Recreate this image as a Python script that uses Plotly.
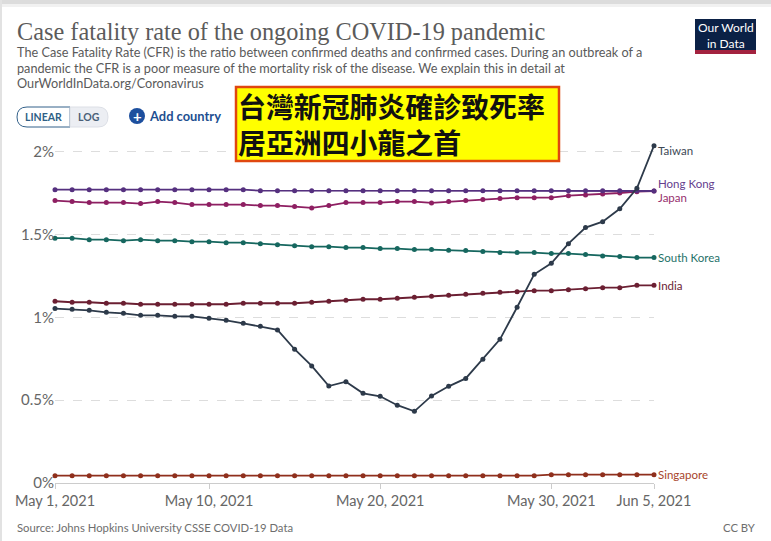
import pandas as pd
import plotly.graph_objects as go

W, H = 771, 541
ML, MR, MT, MB = 55, 117, 144, 58

dates = pd.date_range("2021-05-01", "2021-06-05").strftime("%Y-%m-%d").tolist()

taiwan = [1.054, 1.05, 1.043, 1.031, 1.025, 1.013, 1.013, 1.007, 1.007, 0.995, 0.983, 0.965,
          0.947, 0.925, 0.808, 0.707, 0.586, 0.612, 0.542, 0.524, 0.47, 0.433, 0.526, 0.584,
          0.632, 0.747, 0.868, 1.062, 1.261, 1.327, 1.446, 1.543, 1.579, 1.657, 1.78, 2.038]
hong_kong = [1.772, 1.772, 1.772, 1.772, 1.772, 1.772, 1.772, 1.772, 1.772, 1.772, 1.772, 1.772,
             1.766, 1.766, 1.766, 1.766, 1.766, 1.766, 1.766, 1.766, 1.766, 1.766, 1.766, 1.766,
             1.766, 1.766, 1.766, 1.766, 1.766, 1.766, 1.766, 1.766, 1.766, 1.766, 1.766, 1.764]
japan = [1.706, 1.7, 1.694, 1.694, 1.694, 1.688, 1.7, 1.694, 1.682, 1.682, 1.682, 1.682,
         1.676, 1.676, 1.67, 1.662, 1.676, 1.694, 1.694, 1.694, 1.7, 1.7, 1.692, 1.7,
         1.706, 1.712, 1.718, 1.724, 1.724, 1.724, 1.736, 1.74, 1.746, 1.752, 1.76, 1.764]
south_korea = [1.479, 1.479, 1.47, 1.47, 1.464, 1.47, 1.464, 1.464, 1.458, 1.458, 1.452, 1.452,
               1.446, 1.44, 1.434, 1.428, 1.428, 1.422, 1.422, 1.416, 1.416, 1.41, 1.41, 1.406,
               1.404, 1.398, 1.392, 1.392, 1.392, 1.386, 1.386, 1.38, 1.372, 1.368, 1.362, 1.362]
india = [1.098, 1.092, 1.092, 1.086, 1.086, 1.08, 1.08, 1.08, 1.08, 1.08, 1.08, 1.086,
         1.086, 1.086, 1.086, 1.092, 1.098, 1.104, 1.11, 1.11, 1.116, 1.122, 1.128, 1.134,
         1.14, 1.146, 1.152, 1.156, 1.162, 1.162, 1.168, 1.174, 1.18, 1.18, 1.194, 1.194]
singapore = [0.044, 0.044, 0.044, 0.044, 0.044, 0.044, 0.044, 0.044, 0.044, 0.044, 0.044, 0.044,
             0.044, 0.044, 0.044, 0.044, 0.044, 0.044, 0.044, 0.044, 0.044, 0.044, 0.044, 0.044,
             0.044, 0.044, 0.044, 0.044, 0.044, 0.05, 0.05, 0.05, 0.05, 0.05, 0.05, 0.05]

series = [
    ("Singapore", singapore, "#8f2f1c", "#a8452c", 0),
    ("India", india, "#6b1f32", "#6b2333", 0),
    ("South Korea", south_korea, "#16675f", "#1f7269", 0),
    ("Japan", japan, "#8e1f62", "#972f6e", 6),
    ("Hong Kong", hong_kong, "#55307f", "#65408e", -8),
    ("Taiwan", taiwan, "#2d3a4a", "#3d4855", 5),
]

y_ticks = [0, 0.5, 1, 1.5, 2]
y_labels = ["0%", "0.5%", "1%", "1.5%", "2%"]
x_ticks = ["2021-05-01", "2021-05-10", "2021-05-20", "2021-05-30", "2021-06-05"]
x_labels = ["May 1, 2021", "May 10, 2021", "May 20, 2021", "May 30, 2021", "Jun 5, 2021"]

title = "Case fatality rate of the ongoing COVID-19 pandemic"
subtitle = ["The Case Fatality Rate (CFR) is the ratio between confirmed deaths and confirmed cases. During an outbreak of a",
            "pandemic the CFR is a poor measure of the mortality risk of the disease. We explain this in detail at",
            "OurWorldInData.org/Coronavirus"]


def px_x(x):
    return (x - ML) / (W - ML - MR)


def px_y(y):
    return 1 - (y - MT) / (H - MT - MB)


def rect(x0, y0, x1, y1, fill, line=None, width=0):
    return dict(type="rect", xref="paper", yref="paper", x0=px_x(x0), x1=px_x(x1), y0=px_y(y0), y1=px_y(y1),
                fillcolor=fill, line=dict(color=line or fill, width=width), layer="above")


def text(x, y, s, size, color, font="Lato", xanchor="left", yanchor="middle", **kw):
    return dict(xref="paper", yref="paper", x=px_x(x), y=px_y(y), text=s, showarrow=False,
                xanchor=xanchor, yanchor=yanchor, align=kw.pop("align", "left"),
                font=dict(family=font, size=size, color=color), borderpad=0, **kw)


fig = go.Figure()

for name, values, color, label_color, shift in series:
    fig.add_trace(go.Scatter(x=dates, y=values, mode="lines+markers", name=name, cliponaxis=False,
                             line=dict(color=color, width=1.8), marker=dict(color=color, size=5)))

# подписи справа от линий
annotations = []
for name, values, color, label_color, shift in series:
    annotations.append(dict(x=dates[-1], y=values[-1], xref="x", yref="y", text=name, showarrow=False,
                            xanchor="left", xshift=2, yshift=-shift, font=dict(family="Lato", size=11.5, color=label_color)))

# шапка
annotations.append(text(16, 31, title, 24.3, "#5b5b5b", font="Liberation Serif", height=27))
for i, line in enumerate(subtitle):
    annotations.append(text(16, 52.5 + i * 15.2, line, 12.7, "#5a5a5a"))
annotations.append(text(43.5, 117, "<b>LINEAR</b>", 10.5, "#2f5f86", xanchor="center"))
annotations.append(text(89, 117, "<b>LOG</b>", 10.5, "#4a5f78", xanchor="center"))
annotations.append(text(137, 115.5, "<b>+</b>", 15, "white", xanchor="center"))
annotations.append(text(147.5, 116, "<b>Add country</b>", 12.9, "#1d4f91"))
annotations.append(text(725.5, 35, "Our World<br>in Data", 12, "white", xanchor="center", align="center"))

# жёлтая плашка
annotations.append(text(237, 124, "<b>台灣新冠肺炎確診致死率<br>居亞洲四小龍之首</b>", 27.9, "#111111", font="Noto Sans CJK TC"))

# подвал
annotations.append(text(16, 527, "Source: Johns Hopkins University CSSE COVID-19 Data", 11.3, "#6e6e6e"))
annotations.append(text(757, 527, "CC BY", 11.3, "#6e6e6e", xanchor="right"))

shapes = [
    rect(0, 0, W, 4, "#dcdcdc"),
    rect(0, 4, W, 7, "#f1f1f1"),
    rect(0, 0, 2, H, "#e2e2e2"),
    rect(236, 87, 559, 161, "#ffff00", "#e0470f", 2.5),
    rect(695, 19, 756, 50, "#0b2146"),
    rect(695, 50, 756, 54, "#a3223f"),
    dict(type="path", xref="paper", yref="paper", layer="above", fillcolor="white",
         line=dict(color="#33618a", width=1),
         path=f"M {px_x(70)} {px_y(107)} L {px_x(27)} {px_y(107)} Q {px_x(17)} {px_y(107)} {px_x(17)} {px_y(117)} "
              f"Q {px_x(17)} {px_y(127)} {px_x(27)} {px_y(127)} L {px_x(70)} {px_y(127)} Z"),
    dict(type="path", xref="paper", yref="paper", layer="above", fillcolor="#eceef3",
         line=dict(color="#dcdfe6", width=1),
         path=f"M {px_x(70)} {px_y(107)} L {px_x(98)} {px_y(107)} Q {px_x(108)} {px_y(107)} {px_x(108)} {px_y(117)} "
              f"Q {px_x(108)} {px_y(127)} {px_x(98)} {px_y(127)} L {px_x(70)} {px_y(127)} Z"),
    dict(type="circle", xref="paper", yref="paper", layer="above", fillcolor="#1d4f9e", line=dict(width=0),
         x0=px_x(129), x1=px_x(145), y0=px_y(108), y1=px_y(124)),
]

fig.update_layout(
    width=W, height=H, autosize=False,
    margin=dict(l=ML, r=MR, t=MT, b=MB),
    paper_bgcolor="white", plot_bgcolor="white",
    showlegend=False,
    annotations=annotations,
    shapes=shapes,
    xaxis=dict(type="date", range=[dates[0], dates[-1]], tickmode="array", tickvals=x_ticks, ticktext=x_labels,
               showgrid=False, zeroline=False, showline=True, linecolor="#cccccc", linewidth=1,
               ticks="outside", ticklen=5, tickcolor="#cccccc",
               tickfont=dict(family="Lato", size=14.5, color="#666666")),
    yaxis=dict(range=[0, 2.048], tickmode="array", tickvals=y_ticks, ticktext=y_labels,
               showgrid=True, gridcolor="#dddddd", griddash="dash", gridwidth=1, zeroline=False, showline=False,
               ticks="", tickfont=dict(family="Lato", size=15, color="#666666")),
)

fig.write_html("out.html", config={"displayModeBar": False}, post_script="document.body.style.margin='0';")
